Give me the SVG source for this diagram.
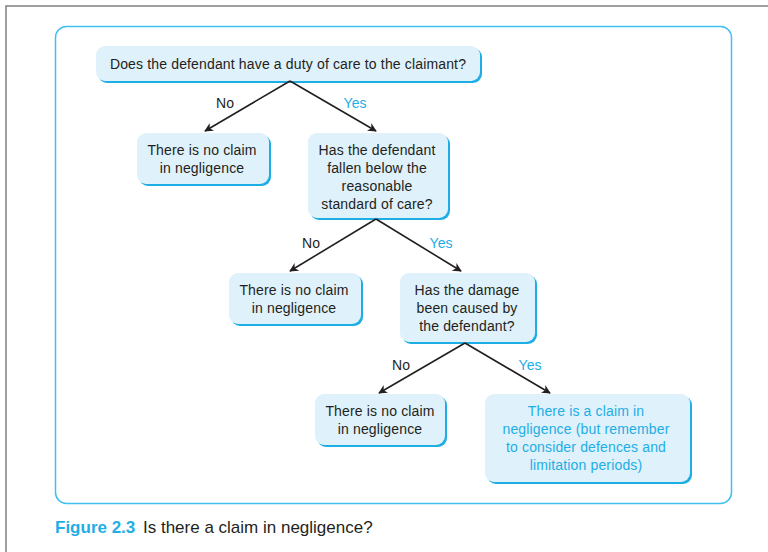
<svg xmlns="http://www.w3.org/2000/svg" width="768" height="552" viewBox="0 0 768 552">
<defs>
<marker id="ah" viewBox="0 0 10 10" refX="9" refY="5" markerWidth="9" markerHeight="9" markerUnits="userSpaceOnUse" orient="auto">
<path d="M0,0 L10,5 L0,10 L3,5 z" fill="#231f20"/>
</marker>
<style>
.sh{fill:#1eaee6}
.bx{fill:#dff1fa}
.t{font-family:"Liberation Sans",Arial,sans-serif;font-size:14px;letter-spacing:0.15px;fill:#231f20;text-anchor:middle}
.y{fill:#1eaee6}
.ln{stroke:#231f20;stroke-width:1.6;fill:none;marker-end:url(#ah)}
.lb{font-family:"Liberation Sans",Arial,sans-serif;font-size:14px;text-anchor:middle}
</style>
</defs>
<rect width="768" height="552" fill="#fff"/>
<path d="M6,552 V6 H768" fill="none" stroke="#808080" stroke-width="1.5"/>
<rect x="55.5" y="26.5" width="676" height="477" rx="11" fill="none" stroke="#3fc0ee" stroke-width="1.5"/>

<g id="n1">
<rect class="sh" x="98" y="48" width="384" height="35" rx="9"/>
<rect class="bx" x="96" y="46" width="384" height="35" rx="9"/>
<text class="t" x="288" y="69">Does the defendant have a duty of care to the claimant?</text>
</g>
<g id="n2">
<rect class="sh" x="139" y="135" width="132" height="51" rx="9"/>
<rect class="bx" x="137" y="133" width="132" height="51" rx="9"/>
<text class="t" x="202" y="155">There is no claim</text>
<text class="t" x="202" y="173">in negligence</text>
</g>
<g id="n3">
<rect class="sh" x="310" y="135" width="140" height="85" rx="9"/>
<rect class="bx" x="308" y="133" width="140" height="85" rx="9"/>
<text class="t" x="377" y="155">Has the defendant</text>
<text class="t" x="377" y="173">fallen below the</text>
<text class="t" x="377" y="191">reasonable</text>
<text class="t" x="377" y="209">standard of care?</text>
</g>
<g id="n4">
<rect class="sh" x="231" y="275" width="132" height="51" rx="9"/>
<rect class="bx" x="229" y="273" width="132" height="51" rx="9"/>
<text class="t" x="294" y="295">There is no claim</text>
<text class="t" x="294" y="313">in negligence</text>
</g>
<g id="n5">
<rect class="sh" x="402" y="275" width="135" height="69" rx="9"/>
<rect class="bx" x="400" y="273" width="135" height="69" rx="9"/>
<text class="t" x="467" y="295">Has the damage</text>
<text class="t" x="467" y="313">been caused by</text>
<text class="t" x="467" y="331">the defendant?</text>
</g>
<g id="n6">
<rect class="sh" x="317" y="396" width="130" height="51" rx="9"/>
<rect class="bx" x="315" y="394" width="130" height="51" rx="9"/>
<text class="t" x="380" y="416">There is no claim</text>
<text class="t" x="380" y="434">in negligence</text>
</g>
<g id="n7">
<rect class="sh" x="487" y="396" width="205" height="88" rx="9"/>
<rect class="bx" x="485" y="394" width="205" height="88" rx="9"/>
<text class="t y" x="586" y="416">There is a claim in</text>
<text class="t y" x="586" y="434">negligence (but remember</text>
<text class="t y" x="586" y="452">to consider defences and</text>
<text class="t y" x="586" y="470">limitation periods)</text>
</g>

<g id="connectors">
<line class="ln" x1="290" y1="81" x2="205" y2="131"/>
<line class="ln" x1="290" y1="81" x2="376" y2="131"/>
<line class="ln" x1="376" y1="219" x2="290" y2="271"/>
<line class="ln" x1="376" y1="219" x2="461" y2="271"/>
<line class="ln" x1="465" y1="343" x2="379" y2="393"/>
<line class="ln" x1="465" y1="343" x2="550" y2="393"/>
<text class="lb" x="225" y="108" fill="#231f20">No</text>
<text class="lb" x="355" y="108" fill="#1eaee6">Yes</text>
<text class="lb" x="311" y="248" fill="#231f20">No</text>
<text class="lb" x="441" y="248" fill="#1eaee6">Yes</text>
<text class="lb" x="401" y="370" fill="#231f20">No</text>
<text class="lb" x="530" y="370" fill="#1eaee6">Yes</text>
</g>

<text x="55" y="533" font-family="'Liberation Sans',Arial,sans-serif" font-size="17" font-weight="bold" fill="#1eaee6">Figure 2.3</text>
<text x="143" y="533" font-family="'Liberation Sans',Arial,sans-serif" font-size="17" fill="#231f20">Is there a claim in negligence?</text>
</svg>
